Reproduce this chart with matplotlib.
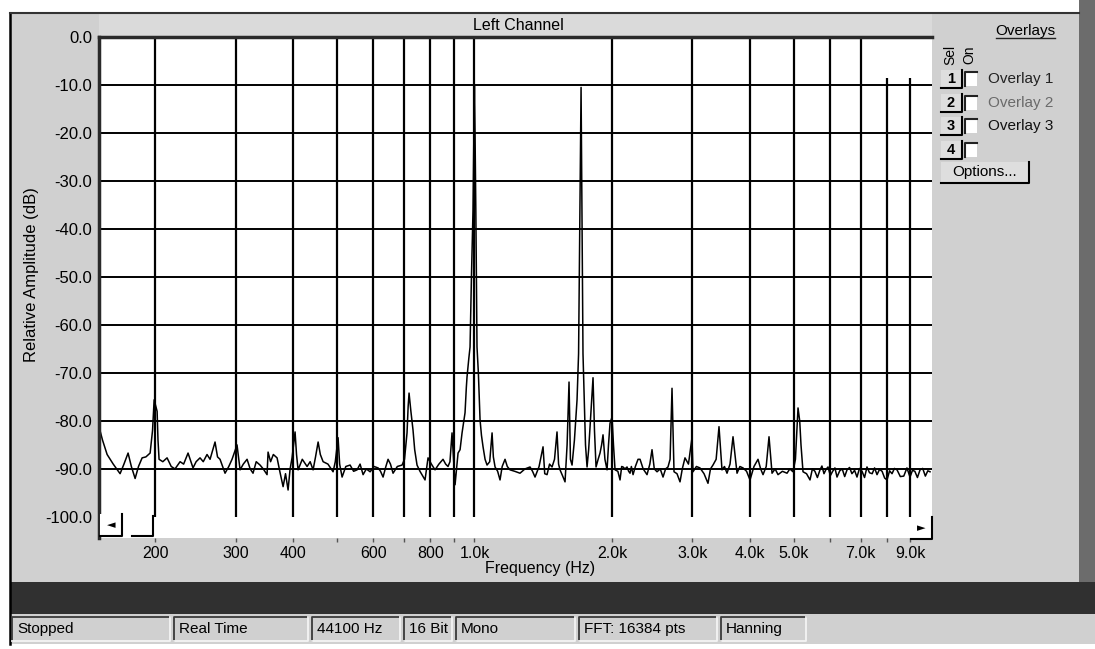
import matplotlib
matplotlib.use('Agg')
import matplotlib.pyplot as plt
from matplotlib.patches import Rectangle
from matplotlib.ticker import FixedLocator, NullFormatter

plt.rcParams['font.family'] = ['Liberation Sans', 'DejaVu Sans']

# Spectrum trace (Hz, dB)
freq_hz = [
    150.8, 153.5, 157.1, 162, 167.7, 171, 174.6, 177.5, 180.9, 184, 187.4, 191,
    195.1, 197.5, 199.1, 202.1, 203.0, 204.1, 208, 212.5, 217, 221.2, 226.9, 231,
    236.2, 242.2, 246, 250.9, 255, 259.9, 263.9, 270.6, 274, 277.5, 284.6, 290,
    294.8, 298.5, 302.3, 307.0, 312, 318.0, 323, 327.7, 333, 339.5, 345, 351.7,
    353.5, 358, 363, 369.9, 375, 381.3, 386, 391.0, 395, 398.9, 405.0, 408,
    411.2, 420, 430.3, 437, 443.5, 449, 454.9, 460, 466.5, 478, 490.5, 496,
    503.0, 507, 513.3, 523, 534.4, 544, 553.6, 562, 570.6, 580, 591.2, 603,
    615.5, 623, 631.0, 640, 647.1, 655, 663.6, 678, 694.4, 703, 712.0, 716,
    719.3, 726, 733.8, 740, 748.8, 760, 779.6, 791.5, 805, 819.9, 836, 853.6,
    865, 875.3, 884, 893.2, 900, 907.0, 914, 920.7, 930.1, 939.5, 948, 953.7,
    960, 963.4, 972, 978.1, 985, 992.9, 997, 1000, 1003, 1007, 1013, 1020,
    1028.7, 1036, 1044.3, 1055, 1065.6, 1080, 1092.9, 1100, 1109.5, 1124, 1137.6, 1150,
    1166.7, 1180, 1196.4, 1225, 1258.2, 1290, 1323.3, 1340, 1357, 1385, 1412.9, 1425,
    1441.7, 1460, 1478.4, 1497, 1516, 1528, 1539.1, 1560, 1578.5, 1595, 1610.6, 1622,
    1635.3, 1655, 1677, 1690, 1700, 1711.3, 1720, 1728, 1737.2, 1750, 1763.8, 1778,
    1790.5, 1805, 1817.6, 1831, 1845.4, 1865, 1882.8, 1898, 1911.5, 1930, 1950.7, 1965,
    1980.1, 2000.3, 2015, 2030.9, 2060, 2082.6, 2100, 2114.5, 2135, 2157.4, 2175, 2190.3,
    2205, 2223.8, 2250, 2280.3, 2303.5, 2340, 2386.1, 2420, 2446.8, 2475, 2509.4, 2550,
    2586.3, 2620, 2652, 2680, 2706.2, 2733.7, 2775, 2817.5, 2850, 2889.1, 2940, 2992.7,
    3007.9, 3060, 3115.8, 3180, 3244, 3285, 3326.6, 3380, 3429.2, 3481.2, 3525, 3570.4,
    3625, 3680, 3755.3, 3810, 3870.3, 3940, 4009.2, 4090, 4173.9, 4230, 4280.8, 4350,
    4412, 4479.6, 4550, 4616.8, 4720, 4830.6, 4900, 4978.6, 5040, 5106.3, 5150, 5183.5,
    5236.3, 5330, 5424, 5490, 5560, 5630, 5704.6, 5760, 5820, 5880, 5939.2, 6010,
    6080, 6150, 6215, 6300, 6380, 6460, 6536.5, 6620, 6700, 6790, 6873, 6960,
    7050, 7140, 7228, 7320, 7420, 7510, 7603, 7700, 7800, 7900, 7996, 8100,
    8200, 8300, 8410, 8550, 8700, 8840, 8978, 9090, 9200, 9320, 9443, 9570,
    9700, 9820, 9931,
]
level_db = [
    -81.2, -84.0, -87.0, -89.0, -91.0, -89.0, -86.7, -89.5, -92.0, -89.5, -87.7, -87.5,
    -86.7, -82.0, -75.6, -78.0, -84.0, -88.0, -88.5, -87.7, -89.5, -90.0, -88.5, -89.0,
    -86.7, -89.8, -88.5, -87.7, -88.5, -87.0, -88.0, -84.4, -87.5, -88.0, -90.9, -89.5,
    -88.0, -86.5, -85.0, -90.2, -89.0, -88.0, -90.0, -90.9, -88.5, -89.2, -90.0, -91.2,
    -86.5, -88.5, -87.0, -87.7, -90.5, -93.7, -91.0, -94.4, -90.0, -87.7, -82.3, -87.0,
    -90.2, -88.0, -89.5, -88.5, -90.2, -87.5, -84.4, -87.0, -88.5, -89.0, -90.6, -88.5,
    -83.5, -89.0, -91.7, -89.5, -89.2, -90.5, -90.2, -89.0, -91.2, -90.0, -90.6, -89.5,
    -89.8, -90.5, -91.7, -89.5, -88.0, -89.0, -90.9, -89.5, -89.2, -88.0, -82.5, -77.0,
    -74.2, -78.0, -81.9, -86.0, -89.2, -90.5, -92.3, -87.7, -89.0, -90.2, -89.0, -88.0,
    -89.0, -89.5, -88.5, -82.5, -88.0, -93.3, -90.0, -86.7, -86.0, -82.5, -80.0, -78.3,
    -73.0, -70.8, -67.0, -64.6, -50.0, -36.0, -20.0, -10.0, -20.0, -36.0, -64.6, -70.0,
    -79.8, -83.0, -85.4, -88.0, -89.2, -88.5, -82.5, -87.5, -89.6, -90.5, -92.3, -89.5,
    -88.0, -89.5, -90.2, -90.5, -90.9, -90.0, -89.6, -90.5, -91.7, -89.5, -85.4, -91.0,
    -91.2, -89.0, -89.6, -88.0, -82.3, -89.0, -90.2, -91.5, -92.7, -85.0, -71.9, -88.0,
    -89.2, -84.0, -75.6, -66.0, -40.0, -10.5, -40.0, -66.0, -74.2, -85.0, -89.6, -86.0,
    -81.2, -76.0, -71.0, -82.0, -89.6, -88.0, -86.7, -85.0, -82.9, -88.0, -90.2, -85.0,
    -80.5, -79.2, -85.0, -90.2, -90.5, -92.3, -89.5, -89.6, -90.0, -89.6, -90.5, -90.9,
    -89.5, -91.2, -89.5, -88.0, -88.0, -90.0, -91.2, -89.0, -86.0, -90.0, -90.6, -90.0,
    -91.7, -90.0, -89.6, -88.0, -73.2, -90.6, -91.0, -92.7, -90.0, -87.7, -89.0, -83.5,
    -90.6, -89.5, -89.8, -91.0, -93.0, -90.0, -89.2, -88.0, -81.2, -90.2, -89.5, -90.9,
    -89.0, -83.3, -90.9, -89.5, -89.8, -90.5, -92.3, -89.5, -88.0, -90.0, -91.2, -89.5,
    -83.3, -90.9, -90.0, -91.2, -90.5, -90.9, -90.0, -90.6, -88.0, -77.3, -80.0, -85.0,
    -90.6, -91.0, -92.3, -90.0, -90.5, -91.8, -90.2, -89.4, -91.0, -90.1, -89.6, -91.4,
    -90.5, -89.8, -91.7, -90.4, -90.0, -91.6, -90.2, -89.7, -91.0, -90.3, -91.7, -89.9,
    -90.5, -91.8, -89.6, -90.8, -91.0, -89.8, -91.2, -90.1, -90.5, -91.9, -92.3, -90.4,
    -91.0, -89.9, -90.2, -91.6, -91.5, -89.8, -91.7, -90.3, -90.5, -91.8, -90.2, -89.9,
    -91.5, -90.4, -90.6,
]

grid_freqs = [200, 300, 400, 500, 600, 700, 800, 900, 1000,
              2000, 3000, 4000, 5000, 6000, 7000, 8000, 9000]
grid_tops = [0, 0, 0, 0, 0, 0, 0, 0, 0, 0, 0, 0, 0, 0, 0, -8.5, -8.5]
grid_levels = [0, -10, -20, -30, -40, -50, -60, -70, -80, -90]

xtick_freqs = [200, 300, 400, 600, 800, 1000, 2000, 3000, 4000, 5000, 7000, 9000]
xtick_labels = ['200', '300', '400', '600', '800', '1.0k', '2.0k', '3.0k',
                '4.0k', '5.0k', '7.0k', '9.0k']
xminor_freqs = [500, 700, 900, 6000, 8000]
ytick_levels = [0, -10, -20, -30, -40, -50, -60, -70, -80, -90, -100]
ytick_labels = [f'{v:.1f}' for v in ytick_levels]

status_fields = ['Stopped', 'Real Time', '44100 Hz', '16 Bit', 'Mono',
                 'FFT: 16384 pts', 'Hanning']
status_edges = [12, 174, 312, 404, 456, 579, 721, 810]
overlay_names = ['Overlay 1', 'Overlay 2', 'Overlay 3', '']
overlay_colors = ['#222222', '#6a6a6a', '#111111', '#888888']

W, H = 1095, 649
fig = plt.figure(figsize=(W / 100, H / 100), dpi=100)
fig.patch.set_facecolor('white')

PANEL = '#d0d0d0'

# window background (pixel coordinates)
bg = fig.add_axes([0, 0, 1, 1], zorder=0)
bg.set_xlim(0, W)
bg.set_ylim(H, 0)
bg.axis('off')
bg.add_patch(Rectangle((10, 13), 1069, 569, facecolor=PANEL, edgecolor='none'))
bg.add_patch(Rectangle((99, 13), 833, 24, facecolor='#dadada', edgecolor='none'))
bg.add_patch(Rectangle((1079, 0), 16, 582, facecolor='#6c6c6c', edgecolor='none'))
bg.add_patch(Rectangle((10, 582), 1085, 32, facecolor='#303030', edgecolor='none'))
bg.add_patch(Rectangle((10, 614), 1085, 30, facecolor=PANEL, edgecolor='none'))
bg.plot([10, 10], [13, 644], color='black', lw=1.8)
bg.plot([10, 1079], [13, 13], color='#333333', lw=1.5)

# spectrum plot
ax = fig.add_axes([99 / W, 1 - 538 / H, (932 - 99) / W, (538 - 37) / H], zorder=1)
ax.set_facecolor('white')
ax.set_xscale('log')
ax.set_xlim(150.8, 10030)
ax.set_ylim(-104.4, 0)

ax.vlines(grid_freqs, -100, grid_tops, color='black', lw=1.6, zorder=1)
ax.hlines(grid_levels, 150.8, 10030, color='black', lw=1.4, zorder=1)
ax.plot(freq_hz, level_db, color='black', lw=1.1, zorder=2)

ax.xaxis.set_major_locator(FixedLocator(xtick_freqs))
ax.set_xticklabels(xtick_labels)
ax.xaxis.set_minor_locator(FixedLocator(xminor_freqs))
ax.xaxis.set_minor_formatter(NullFormatter())
ax.tick_params(axis='x', which='both', length=3, width=1, color='#555555',
               labelsize=11.5, pad=3)
ax.set_yticks(ytick_levels)
ax.set_yticklabels(ytick_labels)
ax.tick_params(axis='y', length=0, labelsize=12, pad=5)

for side in ['right', 'bottom']:
    ax.spines[side].set_visible(False)
for side in ['left', 'top']:
    ax.spines[side].set_linewidth(2.5)
    ax.spines[side].set_color('#2a2a2a')

# interface text and controls (pixel coordinates)
ui = fig.add_axes([0, 0, 1, 1], zorder=2)
ui.set_xlim(0, W)
ui.set_ylim(H, 0)
ui.patch.set_alpha(0)
ui.axis('off')

ui.text(518, 25, 'Left Channel', ha='center', va='center', fontsize=11.5)
ui.text(32, 275, 'Relative Amplitude (dB)', ha='center', va='center',
        rotation=90, fontsize=12)
ui.text(540, 569, 'Frequency (Hz)', ha='center', va='center', fontsize=11.5)

# scroll buttons
ui.add_patch(Rectangle((100, 514), 22, 22, facecolor='white', edgecolor='none'))
ui.plot([100, 122, 122], [536, 536, 514], color='black', lw=1.5)
ui.text(111, 525, '\u25c4', ha='center', va='center', fontsize=8,
        family='DejaVu Sans')
ui.plot([132, 153, 153], [536, 536, 516], color='black', lw=1.5)
ui.add_patch(Rectangle((911, 517), 21, 22, facecolor='white', edgecolor='none'))
ui.plot([911, 932, 932], [539, 539, 517], color='black', lw=1.5)
ui.text(921, 528, '\u25ba', ha='center', va='center', fontsize=8,
        family='DejaVu Sans')

# overlays panel
ui.text(1025, 31, 'Overlays', ha='center', va='center', fontsize=11)
ui.plot([996, 1055], [38, 38], color='#222222', lw=1)
ui.text(950, 55, 'Sel', ha='center', va='center', rotation=90, fontsize=10)
ui.text(969, 55, 'On', ha='center', va='center', rotation=90, fontsize=10)
row_y = [79, 103, 126, 150]
for i, (name, col, y) in enumerate(zip(overlay_names, overlay_colors, row_y)):
    ui.add_patch(Rectangle((941, y - 9), 21, 18, facecolor='#dedede',
                           edgecolor='none'))
    ui.plot([941, 962, 962], [y + 9, y + 9, y - 9], color='black', lw=1.5)
    ui.text(951, y, str(i + 1), ha='center', va='center', fontsize=10.5,
            fontweight='bold')
    ui.add_patch(Rectangle((965, y - 7), 12, 14, facecolor='white',
                           edgecolor='none'))
    ui.plot([965, 965, 977], [y + 7, y - 7, y - 7], color='#222222', lw=1.5)
    if name:
        ui.text(988, y, name, ha='left', va='center', fontsize=11, color=col)
ui.add_patch(Rectangle((941, 162), 88, 21, facecolor='#dedede', edgecolor='none'))
ui.plot([941, 1029, 1029], [183, 183, 162], color='black', lw=1.5)
ui.text(985, 172, 'Options...', ha='center', va='center', fontsize=11)

# status bar: sunken fields
for i, label in enumerate(status_fields):
    x0, x1 = status_edges[i], status_edges[i + 1] - 4
    ui.plot([x0, x0, x1], [641, 617, 617], color='#3a3a3a', lw=1.3)
    ui.plot([x0, x1, x1], [641, 641, 617], color='#f4f4f4', lw=1.3)
    ui.text(x0 + 5, 629, label, ha='left', va='center', fontsize=11)

fig.savefig('out.png', dpi=100)
